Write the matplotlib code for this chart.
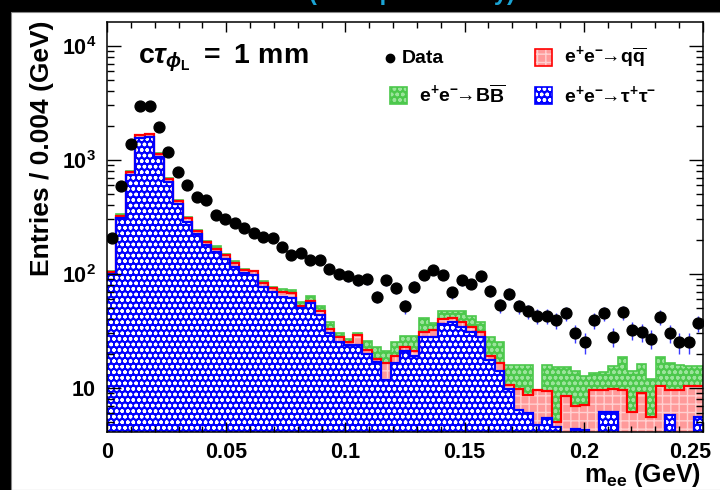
import numpy as np
import matplotlib
matplotlib.use("Agg")
import matplotlib.pyplot as plt
from matplotlib.patches import Rectangle
from matplotlib.transforms import ScaledTranslation
from matplotlib.ticker import MultipleLocator, LogLocator, NullFormatter, FuncFormatter

plt.rcParams['font.family'] = ['Liberation Sans', 'DejaVu Sans']
plt.rcParams['font.weight'] = 'bold'
plt.rcParams['mathtext.fontset'] = 'custom'
plt.rcParams['mathtext.rm'] = 'Liberation Sans'
plt.rcParams['mathtext.bf'] = 'Liberation Sans:bold'
plt.rcParams['mathtext.it'] = 'Liberation Sans:italic'
plt.rcParams['hatch.linewidth'] = 1.0

# m_ee histogram: 63 bins between 0 and 0.25 GeV
m_lo, m_hi, n_bins = 0.0, 0.25, 63
xticks = [0, 0.05, 0.1, 0.15, 0.2, 0.25]
xtick_labels = ['0', '0.05', '0.1', '0.15', '0.2', '0.25']

data = [205, 590, 1390, 2940, 2940, 1935, 1183, 790, 604, 476,
        446, 330, 302, 279, 252, 228, 212, 208, 172, 146,
        152, 131, 132, 110, 100, 95, 88, 90, 63, 88,
        75, 52, 77, 98, 108, 98, 69, 88, 82, 95,
        71, 53, 67, 52, 47, 43, 43, 39, 45, 30,
        25, 39, 45, 28, 46, 32, 31, 27, 42, 30,
        25, 25, 37]

tautau = [100, 310, 738, 1550, 1580, 1070, 646, 411, 288, 223,
          180, 155, 135, 116, 101, 98, 77, 70, 63, 61,
          50, 56, 44, 30, 25, 24, 24, 20, 16.7, 11.7,
          16.5, 21, 19, 28, 28, 36, 37.5, 34, 31, 28,
          17.6, 14, 9.8, 6.4, 6.0, 4.7, 5.4, 4.5, 0, 4.4,
          4.3, 0, 6.1, 6.1, 0, 0, 0, 0, 0, 5.8,
          0, 0, 5.6]

qqbar = [3, 15, 52, 90, 110, 60, 34, 26, 20, 15,
         12, 11, 12, 8, 7, 7, 6, 5, 6, 7,
         2, 2, 3, 3, 3, 1.5, 5, 1.5, 1.3, 4.8,
         2.5, 2, 2, 3, 4, 4, 3.5, 4, 3, 3,
         1.4, 2.5, 0.8, 3.3, 2.7, 4.8, 3.9, 0.5, 8.4, 2.5,
         2.8, 9.5, 3.4, 3.7, 9.5, 6.2, 9.0, 5.6, 10.3, 3.8,
         9.6, 10.3, 4.7]

bbbar = [2, 9, 10, 20, 10, 10, 10, 8, 5, 4,
         3, 8, 3, 6, 3, 2, 3, 2, 4, 4,
         5, 6, 5, 5, 2, 1.5, 1, 4.5, 5, 4.5,
         6, 5.5, 7.5, 10, 5, 7, 6, 9, 9, 7,
         9, 8.5, 5.4, 6.3, 7.3, 0, 6.7, 10.3, 6.9, 7.1,
         5.6, 4, 4.3, 5.6, 9.3, 7.8, 7.1, 6.3, 8.5, 6.9,
         6.3, 5.3, 5.3]

edges = np.linspace(m_lo, m_hi, n_bins + 1)
centers = 0.5 * (edges[:-1] + edges[1:])
floor = 1e-2
s1 = np.maximum(np.array(tautau, float), floor)
s2 = np.maximum(np.array(tautau) + np.array(qqbar), floor)
s3 = np.maximum(s2 + np.array(bbbar), floor)

BLUE = '#0000ff'
RED = '#ff0000'
PINK = '#ff9a9a'
GREEN = '#4cc84c'

fig = plt.figure(figsize=(7.2, 4.9), dpi=100, facecolor='black')
fig.patches.append(Rectangle((11 / 720, 0), 1, 1 - 12 / 490, transform=fig.transFigure,
                             facecolor='white', edgecolor='#888888', lw=0.8, zorder=-5))
# slide title, almost entirely outside the picture
fig.text(0.572, 1.0, '(Belle preliminary)', color='#1aa3d4', fontsize=17,
         ha='center', va='baseline')

ax = fig.add_axes([107 / 720, 1 - 432 / 490, 596 / 720, 410 / 490])
ax.set_yscale('log')

# stacked fills: tau tau (bottom), q qbar, B Bbar (top)
ax.stairs(s3, edges, baseline=s2, fill=True, facecolor=GREEN, edgecolor='#9be49b',
          hatch='ooo', lw=0)
ax.stairs(s2, edges, baseline=s1, fill=True, facecolor=PINK, edgecolor='#ffd0d0',
          hatch='++', lw=0)
ax.stairs(s1, edges, baseline=floor, fill=True, facecolor=BLUE, edgecolor='white',
          hatch='ooo', lw=0)
ax.stairs(s3, edges, baseline=None, fill=False, color=GREEN, lw=1.2)
ax.stairs(s2, edges, baseline=None, fill=False, color=RED, lw=1.6)
ax.stairs(s1, edges, baseline=None, fill=False, color=BLUE, lw=1.6)

ax.errorbar(centers, data, yerr=np.sqrt(data), fmt='none', ecolor='#3a3aff',
            elinewidth=1.0, zorder=4)
ax.plot(centers, data, 'o', color='black', ms=7.8, zorder=5)

ax.set_xlim(m_lo, m_hi)
ax.set_ylim(4.1, 1.62e4)
ax.set_xticks(xticks, xtick_labels)
ax.xaxis.set_minor_locator(MultipleLocator(0.01))
ax.yaxis.set_major_locator(LogLocator(base=10))
ax.yaxis.set_minor_locator(LogLocator(base=10, subs=np.arange(2, 10)))
ax.yaxis.set_minor_formatter(NullFormatter())


def ylab(v, p):
    e = int(round(np.log10(v)))
    return '10' if e == 1 else r'$\mathbf{10^{%d}}$' % e


ax.yaxis.set_major_formatter(FuncFormatter(ylab))
ax.tick_params(which='both', direction='in', top=True, right=True, width=1.0)
ax.tick_params(axis='x', which='major', length=7, labelsize=15.5, pad=7)
ax.tick_params(axis='x', which='minor', length=4)
ax.tick_params(axis='y', which='major', length=10, labelsize=15.5, pad=8)
ax.tick_params(axis='y', which='minor', length=5)
for sp in ax.spines.values():
    sp.set_linewidth(1.1)

# keep the last x label inside the frame, like the reference
last = ax.get_xticklabels()[-1]
last.set_transform(last.get_transform() + ScaledTranslation(-0.13, 0, fig.dpi_scale_trans))

fig.text(42 / 720, 1 - 20 / 490, 'Entries / 0.004 (GeV)', rotation=90,
         ha='center', va='top', fontsize=19)
fig.text(701 / 720, 1 - 475 / 490, r'$\mathbf{m_{ee}}$ (GeV)', ha='right',
         va='center', fontsize=18)

ax.text(0.052, 0.912, r'$\mathbf{c}\tau_{\phi_{\mathbf{L}}}$ $\mathbf{=\ 1\ mm}$',
        transform=ax.transAxes, fontsize=20.5, va='center', ha='left')

# legend
ax.plot([0.475], [0.912], 'o', color='black', ms=6, transform=ax.transAxes,
        clip_on=False)
ax.text(0.494, 0.912, 'Data', transform=ax.transAxes, fontsize=14, va='center')
bw, bh = 17 / 596, 17 / 410
entries = [
    (0.718, 0.893, PINK, '#ffd0d0', '++', RED, r'$\mathbf{e^{+}e^{-}\!\!\rightarrow\! q\overline{q}}$'),
    (0.475, 0.800, GREEN, '#9be49b', 'ooo', GREEN, r'$\mathbf{e^{+}e^{-}\!\!\rightarrow\! B\overline{B}}$'),
    (0.718, 0.800, BLUE, 'white', 'ooo', BLUE, r'$\mathbf{e^{+}e^{-}\!\!\rightarrow\! \tau^{+}\tau^{-}}$'),
]
for x0, y0, fc, hc, hatch, lc, label in entries:
    ax.add_patch(Rectangle((x0, y0), bw, bh, transform=ax.transAxes, facecolor=fc,
                           edgecolor=hc, hatch=hatch, lw=0, clip_on=False, zorder=6))
    ax.add_patch(Rectangle((x0, y0), bw, bh, transform=ax.transAxes, fill=False,
                           edgecolor=lc, lw=1.2, clip_on=False, zorder=7))
    ax.text(x0 + 0.048, y0 + bh / 2, label, transform=ax.transAxes, fontsize=14,
            va='center', ha='left')

fig.savefig('out.png', dpi=100, facecolor=fig.get_facecolor())
